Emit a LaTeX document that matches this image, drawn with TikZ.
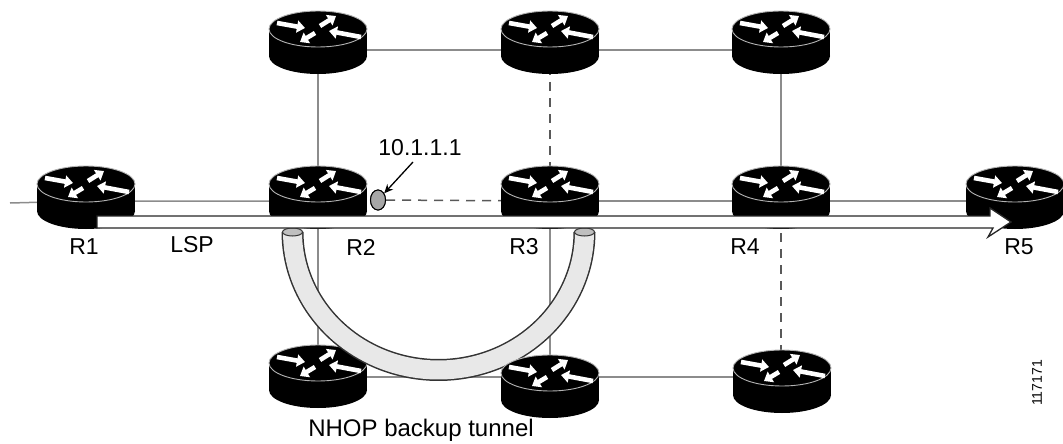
\documentclass[tikz,border=0pt]{standalone}
\usepackage{fontspec}
\setmainfont{Liberation Sans}
\usetikzlibrary{arrows.meta,calc,shapes.geometric}
\tikzset{
  link/.style={draw=black!45, line width=1.5pt},
  dlink/.style={draw=black!65, line width=1.5pt, dash pattern=on 9pt off 7pt},
  lbl/.style={font=\fontsize{23}{27}\selectfont, inner sep=0pt},
  rarrow/.style={white, line width=4.6pt, -{Triangle[length=8pt,width=12pt]}},
  router/.pic={
    \fill[black] (-49,0) rectangle (49,27);
    \fill[black] (0,27) ellipse[x radius=49, y radius=18];
    \filldraw[fill=black, draw=black!30, line width=0.9pt] (0,0) ellipse[x radius=49, y radius=18];
    \draw[rarrow] (-41,-6) -- (-13,-1);
    \draw[rarrow] (43,8) -- (11,2);
    \draw[rarrow] (2,-3) -- (18,-13);
    \draw[rarrow] (-3,4) -- (-18,13);
  }
}
\begin{document}
\begin{tikzpicture}[x=1pt,y=-1pt]
\useasboundingbox (0,0) rectangle (1063,444);
% link attachment points
\coordinate (stub) at (10,203);
\coordinate (r1) at (86,201);
\coordinate (r2) at (318,201);
\coordinate (r3) at (550,201);
\coordinate (r4) at (781,201);
\coordinate (r5) at (1015,201);
\coordinate (t2) at (318,50);
\coordinate (t3) at (550,50);
\coordinate (t4) at (781,50);
\coordinate (b2) at (318,377);
\coordinate (b3) at (550,377);
\coordinate (b4) at (781,377);
% links
\draw[link] (stub) -- (r1) -- (r2);
\draw[link] (r3) -- (r4) -- (r5);
\draw[link] (t2) -- (t3) -- (t4);
\draw[link] (b2) -- (b3) -- (b4);
\draw[link] (t2) -- (r2);
\draw[dlink] (t3) -- (r3);
\draw[link] (t4) -- (r4);
\draw[link] (r2) -- (b2);
\draw[link] (r3) -- (b3);
\draw[dlink] (r4) -- (b4);
\node[ellipse, draw=black, line width=1pt, fill=black!35, minimum width=15pt, minimum height=20pt, inner sep=0pt] (ip) at (378,200) {};
\draw[dlink] (ip) -- (r3);
% routers
\pic at (318,29) {router};
\pic at (550,29) {router};
\pic at (781,29) {router};
\pic at (86,184) {router};
\pic at (318,184) {router};
\pic at (550,184) {router};
\pic at (781,184) {router};
\pic at (1015,184) {router};
\pic at (318,363) {router};
\pic at (782,368) {router};
% backup tunnel
\draw[line width=22pt, black!80] plot[domain=180:360, samples=80] ({438.5+146*cos(\x)},{232-138*sin(\x)});
\draw[line width=19pt, black!9] plot[domain=180:360, samples=80] ({438.5+146*cos(\x)},{232-138*sin(\x)});
\filldraw[fill=black!25, draw=black!80, line width=1pt] (292.5,232) ellipse[x radius=10, y radius=4];
\filldraw[fill=black!25, draw=black!80, line width=1pt] (584.5,232) ellipse[x radius=10, y radius=4];
\pic at (550,373) {router};
% LSP
\filldraw[fill=white, draw=black!85, line width=1.3pt] (97,216) -- (990,216) -- (990,208) -- (1011,222) -- (988,237) -- (993,228) -- (97,228) -- cycle;
% ip marker
\node[ellipse, draw=black, line width=1pt, fill=black!35, minimum width=15pt, minimum height=20pt, inner sep=0pt] at (ip) {};
\node[lbl] (iplbl) at (420,148) {10.1.1.1};
\draw[line width=1.3pt, -{Stealth[length=9pt,width=8pt]}] (413,162) -- (ip);
% labels
\node[lbl] (l1) at (84,247) {R1};
\node[lbl] (llsp) at (192,245) {LSP};
\node[lbl] (l2) at (361,247) {R2};
\node[lbl] (l3) at (524,247) {R3};
\node[lbl] (l4) at (745,247) {R4};
\node[lbl] (l5) at (1019,247) {R5};
\node[lbl, font=\fontsize{24}{28}\selectfont] (nhop) at (421,430) {NHOP backup tunnel};
\node[rotate=90, inner sep=0pt, font=\fontsize{14}{16}\selectfont] (fig) at (1037,383) {117171};
\end{tikzpicture}
\end{document}
